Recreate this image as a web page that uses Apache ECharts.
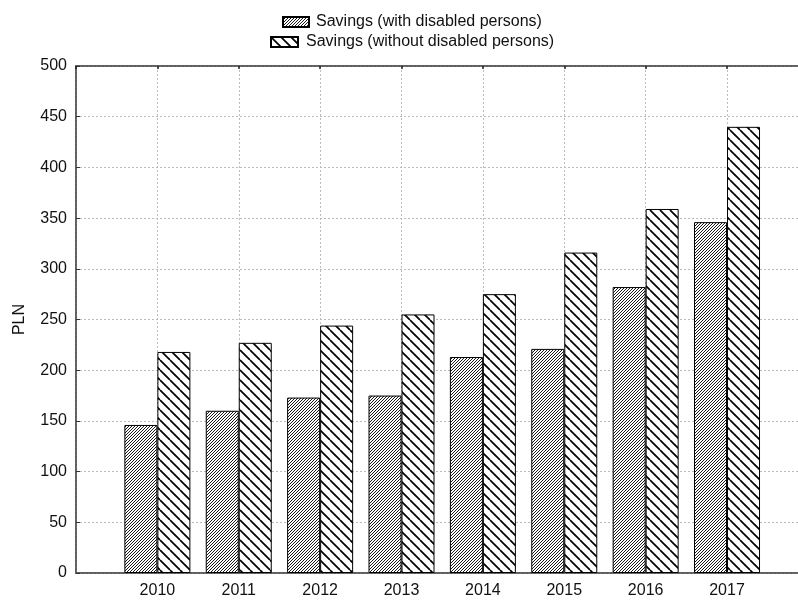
<!DOCTYPE html>
<html>
<head>
<meta charset="utf-8">
<script src="https://cdn.jsdelivr.net/npm/echarts@6/dist/echarts.min.js"></script>
<style>html,body{margin:0;padding:0;background:#fff;}#c{width:798px;height:603px;}</style>
</head>
<body>
<div id="c"></div>
<script>
var categories = ['2009', '2010', '2011', '2012', '2013', '2014', '2015', '2016', '2017', '2018'];
var withDisabled = [null, 146, 160, 173, 175, 213, 221, 282, 346, null];
var withoutDisabled = [null, 218, 227, 244, 255, 275, 316, 359, 440, null];
var yTicks = {min: 0, max: 500, interval: 50};
var seriesNames = ['Savings (with disabled persons)', 'Savings (without disabled persons)'];

function hatch(size, lw, dir) {
  var c = document.createElement('canvas');
  c.width = size; c.height = size;
  var g = c.getContext('2d');
  g.fillStyle = '#fff'; g.fillRect(0, 0, size, size);
  g.strokeStyle = '#000'; g.lineWidth = lw;
  for (var k = -size; k <= size; k += size) {
    g.beginPath();
    if (dir > 0) { g.moveTo(k, size); g.lineTo(k + size, 0); }
    else { g.moveTo(k, 0); g.lineTo(k + size, size); }
    g.stroke();
  }
  return {image: c, repeat: 'repeat'};
}
var fine = hatch(3, 0.9, 1);
var coarse = hatch(10, 1.7, -1);

var font = 'Liberation Sans, Arial, sans-serif';
var chart = echarts.init(document.getElementById('c'), null, {renderer: 'canvas'});
chart.setOption({
  animation: false,
  backgroundColor: '#fff',
  grid: {left: 76, top: 66, height: 507, width: 732.4, outerBoundsMode: 'none', containLabel: false,
         show: true, borderColor: '#555', borderWidth: 1.5},
  legend: [
    {data: [{name: seriesNames[0], icon: 'rect'}], left: 277, top: 9, itemWidth: 26, itemHeight: 10, itemGap: 0,
     textStyle: {fontFamily: font, fontSize: 16, color: '#111', padding: [0, 0, 0, 2]}},
    {data: [{name: seriesNames[1], icon: 'rect'}], left: 265, top: 29, itemWidth: 27, itemHeight: 10, itemGap: 0,
     textStyle: {fontFamily: font, fontSize: 16, color: '#111', padding: [0, 0, 0, 3]}}
  ],
  xAxis: [{
    type: 'category', data: categories, boundaryGap: false,
    axisLine: {show: true, lineStyle: {color: '#555', width: 1.5}},
    axisTick: {show: false},
    axisLabel: {fontFamily: font, fontSize: 16, color: '#111', margin: 10,
      formatter: function (v, i) { return (i === 0 || i === categories.length - 1) ? '' : v; }},
    splitLine: {show: true, lineStyle: {color: '#bbb', type: [2, 2], width: 1}}
  }, {
    type: 'category', data: categories, boundaryGap: false, position: 'top',
    axisLine: {show: true, lineStyle: {color: '#555', width: 1.5}},
    axisTick: {show: true, inside: true, length: 3, lineStyle: {color: '#222', width: 1.5}},
    axisLabel: {show: false}
  }],
  yAxis: {
    type: 'value', min: yTicks.min, max: yTicks.max, interval: yTicks.interval,
    name: 'PLN', nameLocation: 'middle', nameGap: 48, nameRotate: 90,
    nameTextStyle: {fontFamily: font, fontSize: 16, color: '#111'},
    axisLine: {show: true, lineStyle: {color: '#555', width: 1.5}},
    axisTick: {show: true, inside: true, length: 4, lineStyle: {color: '#333'}},
    axisLabel: {fontFamily: font, fontSize: 16, color: '#111', margin: 9},
    splitLine: {show: true, lineStyle: {color: '#bbb', type: [2, 2], width: 1}}
  },
  series: [
    {name: seriesNames[0], type: 'bar', data: withDisabled, barWidth: 33, barGap: '0%',
     itemStyle: {color: fine, borderColor: '#000', borderWidth: 1}},
    {name: seriesNames[1], type: 'bar', data: withoutDisabled, barWidth: 33, barGap: '0%',
     itemStyle: {color: coarse, borderColor: '#000', borderWidth: 1}}
  ]
});
</script>
</body>
</html>
